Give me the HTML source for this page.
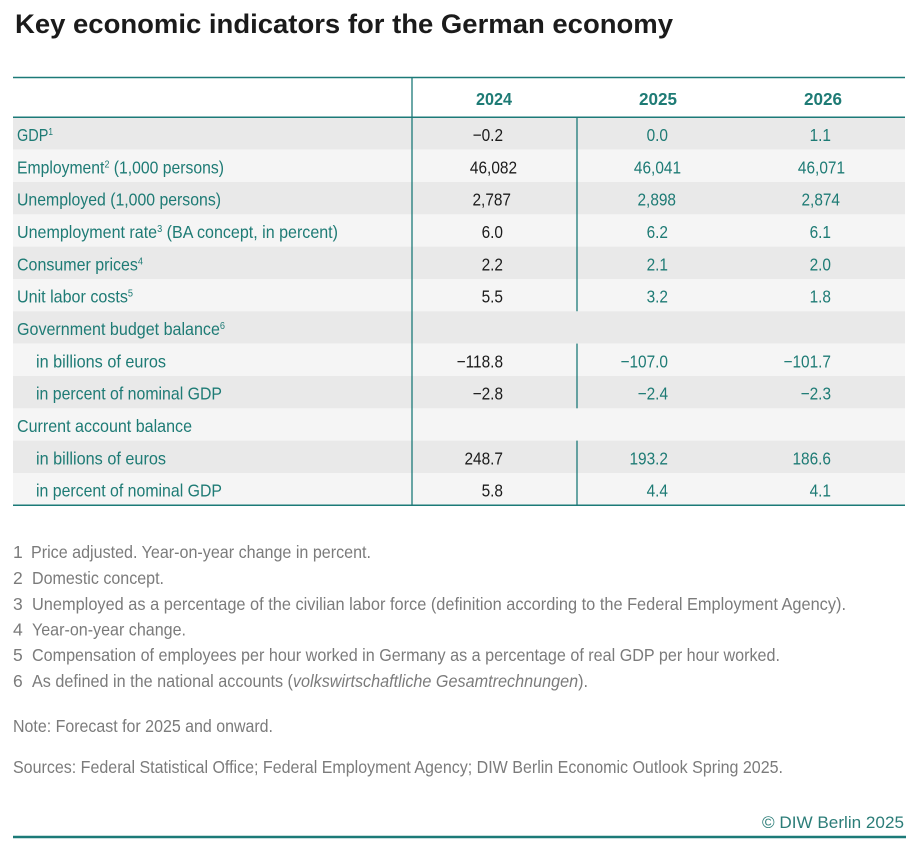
<!DOCTYPE html>
<html>
<head>
<meta charset="utf-8">
<style>
html,body{margin:0;padding:0;background:#fff;}
svg{display:block;}
text{font-family:"Liberation Sans",Arial,sans-serif;}
</style>
</head>
<body>
<svg width="915" height="850" viewBox="0 0 915 850" xmlns="http://www.w3.org/2000/svg">
  <!-- Title -->
  <text x="15" y="33" font-size="27" font-weight="bold" fill="#1b1b1b" textLength="658" lengthAdjust="spacingAndGlyphs">Key economic indicators for the German economy</text>

  <!-- Row backgrounds -->
  <g>
    <rect x="13" y="117.3" width="892" height="32.4" fill="#e9e9e9"/>
    <rect x="13" y="149.6" width="892" height="32.4" fill="#f5f5f5"/>
    <rect x="13" y="182.0" width="892" height="32.4" fill="#e9e9e9"/>
    <rect x="13" y="214.3" width="892" height="32.4" fill="#f5f5f5"/>
    <rect x="13" y="246.6" width="892" height="32.4" fill="#e9e9e9"/>
    <rect x="13" y="279.0" width="892" height="32.4" fill="#f5f5f5"/>
    <rect x="13" y="311.3" width="892" height="32.4" fill="#e9e9e9"/>
    <rect x="13" y="343.6" width="892" height="32.4" fill="#f5f5f5"/>
    <rect x="13" y="376.0" width="892" height="32.4" fill="#e9e9e9"/>
    <rect x="13" y="408.3" width="892" height="32.4" fill="#f5f5f5"/>
    <rect x="13" y="440.6" width="892" height="32.4" fill="#e9e9e9"/>
    <rect x="13" y="473.0" width="892" height="32.0" fill="#f5f5f5"/>
  </g>

  <!-- Lines -->
  <g stroke="#1c7a78" fill="none">
    <line x1="13" y1="77.5" x2="905" y2="77.5" stroke-width="1.5"/>
    <line x1="13" y1="117.3" x2="905" y2="117.3" stroke-width="1.5"/>
    <line x1="13" y1="505.3" x2="905" y2="505.3" stroke-width="1.5"/>
    <line x1="412" y1="77" x2="412" y2="505" stroke-width="1.3"/>
    <line x1="577" y1="117" x2="577" y2="311.3" stroke-width="1.3"/>
    <line x1="577" y1="343.6" x2="577" y2="408.3" stroke-width="1.3"/>
    <line x1="577" y1="440.6" x2="577" y2="505" stroke-width="1.3"/>
    <line x1="13" y1="837" x2="906" y2="837" stroke-width="2.5"/>
  </g>

  <!-- Header years -->
  <g font-size="17.5" font-weight="bold" fill="#1e7b75" text-anchor="middle">
    <text x="494" y="105" textLength="36" lengthAdjust="spacingAndGlyphs">2024</text>
    <text x="658" y="105" textLength="38" lengthAdjust="spacingAndGlyphs">2025</text>
    <text x="823" y="105" textLength="38" lengthAdjust="spacingAndGlyphs">2026</text>
  </g>

  <!-- Row labels -->
  <g font-size="17.5" fill="#1e7b75">
    <text x="17" y="141" textLength="36" lengthAdjust="spacingAndGlyphs">GDP<tspan font-size="10" dy="-6">1</tspan></text>
    <text x="17" y="173.3" textLength="207" lengthAdjust="spacingAndGlyphs">Employment<tspan font-size="10" dy="-6">2</tspan><tspan dy="6"> (1,000 persons)</tspan></text>
    <text x="17" y="205.7" textLength="204" lengthAdjust="spacingAndGlyphs">Unemployed (1,000 persons)</text>
    <text x="17" y="238" textLength="321" lengthAdjust="spacingAndGlyphs">Unemployment rate<tspan font-size="10" dy="-6">3</tspan><tspan dy="6"> (BA concept, in percent)</tspan></text>
    <text x="17" y="270.3" textLength="126" lengthAdjust="spacingAndGlyphs">Consumer prices<tspan font-size="10" dy="-6">4</tspan></text>
    <text x="17" y="302.7" textLength="116" lengthAdjust="spacingAndGlyphs">Unit labor costs<tspan font-size="10" dy="-6">5</tspan></text>
    <text x="17" y="335" textLength="208" lengthAdjust="spacingAndGlyphs">Government budget balance<tspan font-size="10" dy="-6">6</tspan></text>
    <text x="36" y="367.3" textLength="130" lengthAdjust="spacingAndGlyphs">in billions of euros</text>
    <text x="36" y="399.7" textLength="186" lengthAdjust="spacingAndGlyphs">in percent of nominal GDP</text>
    <text x="17" y="432" textLength="175" lengthAdjust="spacingAndGlyphs">Current account balance</text>
    <text x="36" y="464.3" textLength="130" lengthAdjust="spacingAndGlyphs">in billions of euros</text>
    <text x="36" y="496.7" textLength="186" lengthAdjust="spacingAndGlyphs">in percent of nominal GDP</text>
  </g>

  <!-- 2024 values -->
  <g font-size="17.5" fill="#1b1b1b" text-anchor="end">
    <text transform="translate(503,141) scale(0.88,1)">−0.2</text>
    <text transform="translate(517,173.3) scale(0.88,1)">46,082</text>
    <text transform="translate(511,205.7) scale(0.88,1)">2,787</text>
    <text transform="translate(503,238) scale(0.88,1)">6.0</text>
    <text transform="translate(503,270.3) scale(0.88,1)">2.2</text>
    <text transform="translate(503,302.7) scale(0.88,1)">5.5</text>
    <text transform="translate(503,367.3) scale(0.88,1)">−118.8</text>
    <text transform="translate(503,399.7) scale(0.88,1)">−2.8</text>
    <text transform="translate(503,464.3) scale(0.88,1)">248.7</text>
    <text transform="translate(503,496.7) scale(0.88,1)">5.8</text>
  </g>

  <!-- 2025 values -->
  <g font-size="17.5" fill="#1e7b75" text-anchor="end">
    <text transform="translate(668,141) scale(0.88,1)">0.0</text>
    <text transform="translate(681,173.3) scale(0.88,1)">46,041</text>
    <text transform="translate(676,205.7) scale(0.88,1)">2,898</text>
    <text transform="translate(668,238) scale(0.88,1)">6.2</text>
    <text transform="translate(668,270.3) scale(0.88,1)">2.1</text>
    <text transform="translate(668,302.7) scale(0.88,1)">3.2</text>
    <text transform="translate(668,367.3) scale(0.88,1)">−107.0</text>
    <text transform="translate(668,399.7) scale(0.88,1)">−2.4</text>
    <text transform="translate(668,464.3) scale(0.88,1)">193.2</text>
    <text transform="translate(668,496.7) scale(0.88,1)">4.4</text>
  </g>

  <!-- 2026 values -->
  <g font-size="17.5" fill="#1e7b75" text-anchor="end">
    <text transform="translate(831,141) scale(0.88,1)">1.1</text>
    <text transform="translate(845,173.3) scale(0.88,1)">46,071</text>
    <text transform="translate(840,205.7) scale(0.88,1)">2,874</text>
    <text transform="translate(831,238) scale(0.88,1)">6.1</text>
    <text transform="translate(831,270.3) scale(0.88,1)">2.0</text>
    <text transform="translate(831,302.7) scale(0.88,1)">1.8</text>
    <text transform="translate(831,367.3) scale(0.88,1)">−101.7</text>
    <text transform="translate(831,399.7) scale(0.88,1)">−2.3</text>
    <text transform="translate(831,464.3) scale(0.88,1)">186.6</text>
    <text transform="translate(831,496.7) scale(0.88,1)">4.1</text>
  </g>

  <!-- Footnotes -->
  <g font-size="17.5" fill="#7b7b7b">
    <text x="13" y="558">1</text>
    <text x="31" y="558" textLength="340" lengthAdjust="spacingAndGlyphs">Price adjusted. Year-on-year change in percent.</text>
    <text x="13" y="584">2</text>
    <text x="32" y="584" textLength="132" lengthAdjust="spacingAndGlyphs">Domestic concept.</text>
    <text x="13" y="610">3</text>
    <text x="32" y="610" textLength="814" lengthAdjust="spacingAndGlyphs">Unemployed as a percentage of the civilian labor force (definition according to the Federal Employment Agency).</text>
    <text x="13" y="635.5">4</text>
    <text x="32" y="635.5" textLength="154" lengthAdjust="spacingAndGlyphs">Year-on-year change.</text>
    <text x="13" y="661">5</text>
    <text x="32" y="661" textLength="748" lengthAdjust="spacingAndGlyphs">Compensation of employees per hour worked in Germany as a percentage of real GDP per hour worked.</text>
    <text x="13" y="687">6</text>
    <text x="32" y="687" textLength="556" lengthAdjust="spacingAndGlyphs">As defined in the national accounts (<tspan font-style="italic">volkswirtschaftliche Gesamtrechnungen</tspan>).</text>

    <text x="13" y="732" textLength="260" lengthAdjust="spacingAndGlyphs">Note: Forecast for 2025 and onward.</text>
    <text x="13" y="773" textLength="770" lengthAdjust="spacingAndGlyphs">Sources: Federal Statistical Office; Federal Employment Agency; DIW Berlin Economic Outlook Spring 2025.</text>
  </g>

  <!-- Copyright -->
  <text x="762" y="828" font-size="17" fill="#2b7d78" textLength="142" lengthAdjust="spacingAndGlyphs">© DIW Berlin 2025</text>
</svg>
</body>
</html>
